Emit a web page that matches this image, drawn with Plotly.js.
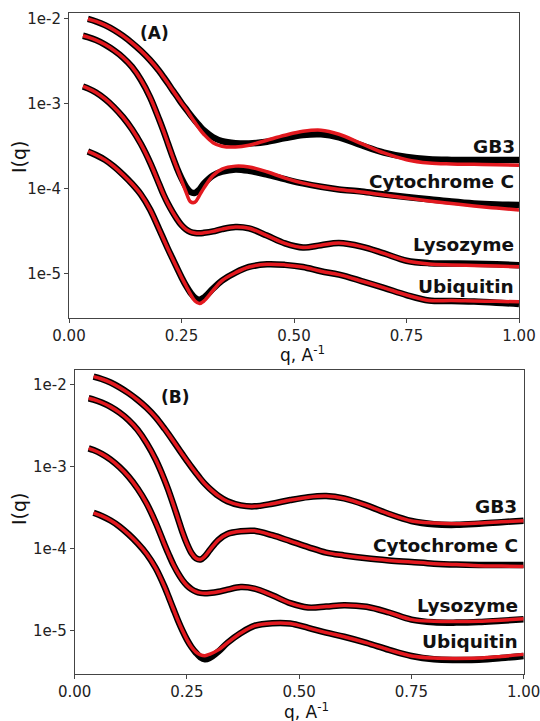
<!DOCTYPE html>
<html><head><meta charset="utf-8">
<script src="https://cdn.plot.ly/plotly-3.0.1.min.js"></script>
<style>html,body{margin:0;padding:0;background:#fff;}</style>
</head><body>
<div id="chart" style="width:540px;height:721px;"></div>
<script>
// scattering vector q (A^-1), shared grid for all curves
const q = [0.031,0.042,0.06,0.08,0.10,0.12,0.14,0.16,0.18,0.20,0.21,0.22,0.23,0.24,0.25,0.26,0.27,0.28,0.29,0.30,0.32,0.34,0.37,0.40,0.44,0.48,0.52,0.56,0.60,0.65,0.70,0.75,0.80,0.85,0.90,0.95,1.00];

// ---------- Panel (A) ----------
const gb3ExpA = [null,1.00e-2,9.35e-3,8.45e-3,7.41e-3,6.31e-3,5.22e-3,4.21e-3,3.28e-3,2.45e-3,2.07e-3,1.74e-3,1.45e-3,1.22e-3,1.02e-3,8.67e-4,7.38e-4,6.34e-4,5.50e-4,4.84e-4,4.03e-4,3.63e-4,3.43e-4,3.40e-4,3.57e-4,3.94e-4,4.29e-4,4.37e-4,4.03e-4,3.24e-4,2.66e-4,2.36e-4,2.22e-4,2.18e-4,2.17e-4,2.17e-4,2.17e-4];
const gb3FitA = [null,1.00e-2,9.35e-3,8.45e-3,7.41e-3,6.31e-3,5.22e-3,4.21e-3,3.28e-3,2.45e-3,2.07e-3,1.74e-3,1.45e-3,1.22e-3,1.02e-3,8.67e-4,7.21e-4,6.00e-4,5.04e-4,4.35e-4,3.48e-4,3.16e-4,3.09e-4,3.25e-4,3.72e-4,4.25e-4,4.73e-4,4.88e-4,4.37e-4,3.39e-4,2.63e-4,2.19e-4,2.00e-4,1.95e-4,1.93e-4,1.91e-4,1.88e-4];
const cytExpA = [6.34e-3,6.11e-3,5.64e-3,4.99e-3,4.26e-3,3.51e-3,2.72e-3,1.91e-3,1.20e-3,6.61e-4,4.79e-4,3.39e-4,2.40e-4,1.74e-4,1.32e-4,1.05e-4,9.12e-5,8.91e-5,9.77e-5,1.15e-4,1.43e-4,1.58e-4,1.68e-4,1.62e-4,1.46e-4,1.29e-4,1.15e-4,1.05e-4,9.77e-5,9.23e-5,8.51e-5,7.94e-5,7.50e-5,7.03e-5,6.68e-5,6.49e-5,6.40e-5];
const cytFitA = [6.34e-3,6.11e-3,5.64e-3,4.99e-3,4.26e-3,3.51e-3,2.72e-3,1.91e-3,1.20e-3,6.61e-4,4.79e-4,3.39e-4,2.40e-4,1.74e-4,1.26e-4,9.12e-5,7.00e-5,6.92e-5,8.32e-5,1.02e-4,1.43e-4,1.70e-4,1.84e-4,1.80e-4,1.58e-4,1.33e-4,1.16e-4,1.05e-4,9.77e-5,9.12e-5,8.41e-5,7.76e-5,7.16e-5,6.68e-5,6.24e-5,5.89e-5,5.58e-5];
const lysExpA = [1.60e-3,1.52e-3,1.36e-3,1.14e-3,9.12e-4,6.95e-4,5.01e-4,3.35e-4,2.04e-4,1.14e-4,8.51e-5,6.61e-5,5.31e-5,4.37e-5,3.70e-5,3.30e-5,3.08e-5,2.99e-5,2.97e-5,3.01e-5,3.13e-5,3.33e-5,3.53e-5,3.40e-5,2.79e-5,2.26e-5,2.02e-5,2.15e-5,2.28e-5,2.07e-5,1.72e-5,1.41e-5,1.32e-5,1.31e-5,1.30e-5,1.28e-5,1.25e-5];
const lysFitA = [1.60e-3,1.52e-3,1.36e-3,1.14e-3,9.12e-4,6.95e-4,5.01e-4,3.35e-4,2.04e-4,1.14e-4,8.51e-5,6.61e-5,5.31e-5,4.37e-5,3.70e-5,3.30e-5,3.08e-5,2.99e-5,2.97e-5,3.01e-5,3.13e-5,3.33e-5,3.53e-5,3.40e-5,2.79e-5,2.26e-5,2.02e-5,2.15e-5,2.28e-5,2.07e-5,1.72e-5,1.41e-5,1.29e-5,1.26e-5,1.24e-5,1.22e-5,1.20e-5];
const ubqExpA = [null,2.74e-4,2.49e-4,2.18e-4,1.82e-4,1.46e-4,1.14e-4,8.51e-5,5.69e-5,3.35e-5,2.55e-5,1.94e-5,1.50e-5,1.16e-5,9.02e-6,7.16e-6,5.92e-6,5.13e-6,4.88e-6,5.19e-6,6.61e-6,8.22e-6,1.02e-5,1.19e-5,1.28e-5,1.26e-5,1.19e-5,1.06e-5,9.66e-6,8.13e-6,6.76e-6,5.56e-6,4.79e-6,4.71e-6,4.65e-6,4.52e-6,4.35e-6];
const ubqFitA = [null,2.74e-4,2.49e-4,2.18e-4,1.82e-4,1.46e-4,1.14e-4,8.51e-5,5.69e-5,3.35e-5,2.55e-5,1.94e-5,1.50e-5,1.16e-5,9.02e-6,7.16e-6,5.69e-6,4.73e-6,4.42e-6,4.73e-6,6.31e-6,8.22e-6,1.02e-5,1.19e-5,1.28e-5,1.26e-5,1.19e-5,1.06e-5,9.66e-6,8.13e-6,6.76e-6,5.56e-6,4.79e-6,4.79e-6,4.73e-6,4.68e-6,4.62e-6];

// ---------- Panel (B) ----------
const gb3ExpB = [null,1.24e-2,1.16e-2,1.05e-2,9.16e-3,7.80e-3,6.46e-3,5.19e-3,3.98e-3,2.88e-3,2.42e-3,2.02e-3,1.68e-3,1.40e-3,1.17e-3,9.82e-4,8.32e-4,7.08e-4,6.12e-4,5.40e-4,4.37e-4,3.76e-4,3.35e-4,3.26e-4,3.51e-4,3.89e-4,4.22e-4,4.35e-4,4.07e-4,3.35e-4,2.63e-4,2.16e-4,1.97e-4,1.94e-4,2.00e-4,2.09e-4,2.18e-4];
const gb3FitB = [null,1.24e-2,1.16e-2,1.05e-2,9.16e-3,7.80e-3,6.46e-3,5.19e-3,3.98e-3,2.88e-3,2.42e-3,2.02e-3,1.68e-3,1.40e-3,1.17e-3,9.82e-4,8.32e-4,7.08e-4,6.12e-4,5.40e-4,4.37e-4,3.76e-4,3.35e-4,3.26e-4,3.51e-4,3.89e-4,4.22e-4,4.35e-4,4.07e-4,3.35e-4,2.63e-4,2.16e-4,2.04e-4,2.00e-4,2.04e-4,2.11e-4,2.18e-4];
const cytExpB = [6.76e-3,6.52e-3,6.00e-3,5.31e-3,4.52e-3,3.67e-3,2.79e-3,1.93e-3,1.22e-3,6.84e-4,4.90e-4,3.40e-4,2.32e-4,1.58e-4,1.14e-4,8.81e-5,7.59e-5,7.33e-5,8.04e-5,9.44e-5,1.27e-4,1.50e-4,1.62e-4,1.64e-4,1.45e-4,1.23e-4,1.04e-4,8.91e-5,8.22e-5,7.59e-5,7.16e-5,6.84e-5,6.53e-5,6.38e-5,6.31e-5,6.31e-5,6.31e-5];
const cytFitB = [6.76e-3,6.52e-3,6.00e-3,5.31e-3,4.52e-3,3.67e-3,2.79e-3,1.93e-3,1.22e-3,6.84e-4,4.90e-4,3.40e-4,2.32e-4,1.58e-4,1.14e-4,8.81e-5,7.59e-5,7.33e-5,8.04e-5,9.44e-5,1.27e-4,1.50e-4,1.62e-4,1.64e-4,1.45e-4,1.23e-4,1.04e-4,8.91e-5,8.22e-5,7.59e-5,7.16e-5,6.84e-5,6.53e-5,6.38e-5,6.17e-5,6.10e-5,6.03e-5];
const lysExpB = [1.66e-3,1.58e-3,1.42e-3,1.21e-3,9.77e-4,7.50e-4,5.37e-4,3.55e-4,2.09e-4,1.12e-4,8.32e-5,6.31e-5,5.01e-5,4.12e-5,3.55e-5,3.20e-5,2.99e-5,2.88e-5,2.85e-5,2.87e-5,2.97e-5,3.15e-5,3.39e-5,3.25e-5,2.69e-5,2.16e-5,1.91e-5,1.96e-5,2.04e-5,1.95e-5,1.66e-5,1.36e-5,1.26e-5,1.25e-5,1.27e-5,1.32e-5,1.37e-5];
const lysFitB = [1.66e-3,1.58e-3,1.42e-3,1.21e-3,9.77e-4,7.50e-4,5.37e-4,3.55e-4,2.09e-4,1.12e-4,8.32e-5,6.31e-5,5.01e-5,4.12e-5,3.55e-5,3.20e-5,2.99e-5,2.88e-5,2.85e-5,2.87e-5,2.97e-5,3.15e-5,3.39e-5,3.25e-5,2.69e-5,2.16e-5,1.91e-5,1.96e-5,2.04e-5,1.95e-5,1.66e-5,1.36e-5,1.30e-5,1.29e-5,1.30e-5,1.34e-5,1.39e-5];
const ubqExpB = [null,2.72e-4,2.49e-4,2.19e-4,1.85e-4,1.49e-4,1.16e-4,8.61e-5,5.82e-5,3.43e-5,2.51e-5,1.82e-5,1.33e-5,1.00e-5,7.76e-6,6.31e-6,5.37e-6,4.73e-6,4.47e-6,4.62e-6,5.56e-6,7.08e-6,9.33e-6,1.14e-5,1.23e-5,1.22e-5,1.08e-5,9.44e-6,8.41e-6,7.08e-6,5.82e-6,4.90e-6,4.47e-6,4.39e-6,4.42e-6,4.62e-6,4.91e-6];
const ubqFitB = [null,2.72e-4,2.49e-4,2.19e-4,1.85e-4,1.49e-4,1.16e-4,8.61e-5,5.82e-5,3.43e-5,2.51e-5,1.82e-5,1.33e-5,1.00e-5,7.76e-6,6.31e-6,5.47e-6,5.07e-6,4.95e-6,5.13e-6,5.82e-6,7.08e-6,9.33e-6,1.14e-5,1.23e-5,1.22e-5,1.08e-5,9.44e-6,8.41e-6,7.08e-6,5.82e-6,4.90e-6,4.62e-6,4.57e-6,4.62e-6,4.84e-6,5.13e-6];

const proteinLabels = ['GB3','Cytochrome C','Lysozyme','Ubiquitin'];
const yTickVals = [1e-2,1e-3,1e-4,1e-5];
const yTickText = ['1e-2','1e-3','1e-4','1e-5'];
const xTickVals = [0,0.25,0.5,0.75,1];
const xTickText = ['0.00','0.25','0.50','0.75','1.00'];

const RED = '#e3191f';
const traces = [];
function addPair(exp, fit, xa, ya){
  traces.push({x:q, y:exp, xaxis:xa, yaxis:ya, type:'scatter', mode:'lines',
    line:{color:'#000', width:6.5, shape:'spline', smoothing:1, simplify:false}, connectgaps:false, hoverinfo:'skip'});
  traces.push({x:q, y:fit, xaxis:xa, yaxis:ya, type:'scatter', mode:'lines',
    line:{color:RED, width:3.5, shape:'spline', smoothing:1, simplify:false}, connectgaps:false, hoverinfo:'skip'});
}
addPair(gb3ExpA, gb3FitA, 'x', 'y');
addPair(cytExpA, cytFitA, 'x', 'y');
addPair(lysExpA, lysFitA, 'x', 'y');
addPair(ubqExpA, ubqFitA, 'x', 'y');
addPair(gb3ExpB, gb3FitB, 'x2', 'y2');
addPair(cytExpB, cytFitB, 'x2', 'y2');
addPair(lysExpB, lysFitB, 'x2', 'y2');
addPair(ubqExpB, ubqFitB, 'x2', 'y2');

const W = 540, H = 721;
const FAM = 'DejaVu Sans, Liberation Sans, Arial, sans-serif';
const tickFont = {family:FAM, size:15, color:'#222'};
function xAxis(domain, anchor){
  return {domain:domain, anchor:anchor, range:[0,1], tickvals:xTickVals, ticktext:xTickText,
    ticks:'outside', ticklen:4, tickcolor:'#444', tickwidth:1, showline:true, mirror:true,
    linecolor:'#444', linewidth:1, showgrid:false, zeroline:false, tickfont:tickFont,
    ticklabeloverflow:'allow', fixedrange:true};
}
function yAxis(domain, anchor, range){
  return {domain:domain, anchor:anchor, type:'log', range:range, tickvals:yTickVals, ticktext:yTickText,
    ticks:'outside', ticklen:4, tickcolor:'#444', tickwidth:1, showline:true, mirror:true,
    linecolor:'#444', linewidth:1, showgrid:false, zeroline:false, tickfont:tickFont,
    ticklabeloverflow:'allow', fixedrange:true};
}

const labelFont = {family:FAM, size:18.5, color:'#111'};
const titleFont = {family:FAM, size:17, color:'#111'};
function px(x){return x/W;}
function py(y){return 1 - y/H;}
const annotations = [];
function lab(text, x, y){
  annotations.push({text:'<b>'+text+'</b>', xref:'paper', yref:'paper', x:px(x), y:py(y),
    xanchor:'right', yanchor:'middle', showarrow:false, font:labelFont});
}
// curve labels, panel A
lab(proteinLabels[0], 517, 146);
lab(proteinLabels[1], 516, 181);
lab(proteinLabels[2], 516, 244);
lab(proteinLabels[3], 516, 286);
// curve labels, panel B
lab(proteinLabels[0], 519, 506);
lab(proteinLabels[1], 520, 545);
lab(proteinLabels[2], 520, 605);
lab(proteinLabels[3], 520, 641);
// panel letters
annotations.push({text:'<b>(A)</b>', xref:'paper', yref:'paper', x:px(154), y:py(33), xanchor:'center', yanchor:'middle', showarrow:false, font:{family:FAM, size:17, color:'#111'}});
annotations.push({text:'<b>(B)</b>', xref:'paper', yref:'paper', x:px(175.5), y:py(397), xanchor:'center', yanchor:'middle', showarrow:false, font:{family:FAM, size:17, color:'#111'}});
// axis titles
annotations.push({text:'I(q)', xref:'paper', yref:'paper', x:px(19), y:py(157), textangle:-90, xanchor:'center', yanchor:'middle', showarrow:false, font:{family:FAM, size:19, color:'#111'}});
annotations.push({text:'I(q)', xref:'paper', yref:'paper', x:px(19), y:py(509), textangle:-90, xanchor:'center', yanchor:'middle', showarrow:false, font:{family:FAM, size:19, color:'#111'}});
annotations.push({text:'q, A<sup>-1</sup>', xref:'paper', yref:'paper', x:px(302), y:py(354), xanchor:'center', yanchor:'middle', showarrow:false, font:titleFont});
annotations.push({text:'q, A<sup>-1</sup>', xref:'paper', yref:'paper', x:px(306), y:py(711), xanchor:'center', yanchor:'middle', showarrow:false, font:titleFont});

const layout = {
  width:W, height:H, margin:{l:0,r:0,t:0,b:0}, paper_bgcolor:'#fff', plot_bgcolor:'#fff',
  showlegend:false,
  xaxis: xAxis([px(69), px(519)], 'y'),
  yaxis: yAxis([py(318), py(12.7)], 'x', [-5.526, -1.926]),
  xaxis2: xAxis([px(74.7), px(523.7)], 'y2'),
  yaxis2: yAxis([py(674), py(370)], 'x2', [-5.529, -1.826]),
  annotations: annotations
};
Plotly.newPlot('chart', traces, layout, {staticPlot:true, displayModeBar:false});
</script>
</body></html>
